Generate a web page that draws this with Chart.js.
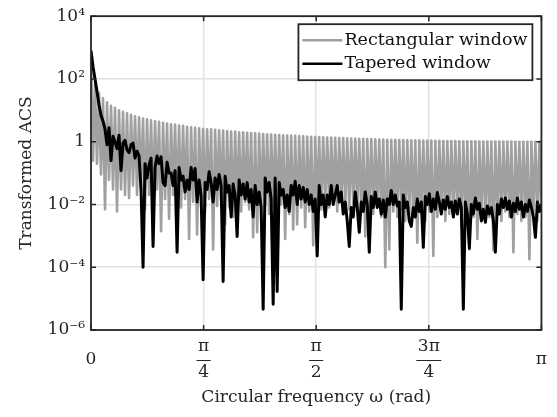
<!DOCTYPE html>
<html lang="en">
<head>
<meta charset="UTF-8">
<title>Transformed ACS</title>
<script src="https://cdn.jsdelivr.net/npm/chart.js"></script>
<style>
  html, body { margin: 0; padding: 0; background: #fff; }
</style>
</head>
<body>
<canvas id="acs-chart" width="557" height="417"></canvas>
<script>
// values, on the same frequency grid (0..pi)
// rectangular window: peak, trough pairs
const rectangular = [
  700, 0.25,   72, 0.2,    36, 0.09,   24, 0.007,  18, 0.06,   14, 0.03,   12, 0.006,  10, 0.03,
  9.0, 0.02,   8.0, 0.016, 7.2, 0.04,  6.5, 0.02,  6.0, 0.03,  5.5, 0.007, 5.2, 0.02,  4.8, 0.012,
  4.5, 0.03,   4.3, 0.0014, 4.0, 0.015, 3.8, 0.0035, 3.6, 0.02, 3.5, 0.01, 3.3, 0.008, 3.2, 0.015,
  3.0, 0.0008, 2.9, 0.012, 2.8, 0.0011, 2.7, 0.01, 2.6, 0.006, 2.5, 0.015, 2.5, 0.00037, 2.4, 0.009,
  2.3, 0.012,  2.25, 0.0023, 2.2, 0.008, 2.1, 0.004, 2.1, 0.01, 2.0, 0.006, 2.0, 0.012, 1.93, 0.007,
  1.89, 0.0009, 1.85, 0.0013, 1.81, 0.008, 1.77, 0.01, 1.73, 0.005, 1.70, 0.009, 1.67, 0.006, 1.64, 0.01,
  1.61, 0.0008, 1.58, 0.005, 1.56, 0.0016, 1.53, 0.0023, 1.51, 0.008, 1.48, 0.0019, 1.46, 0.006, 1.44, 0.0005,
  1.42, 0.01,  1.40, 0.007, 1.38, 0.012, 1.36, 0.008, 1.35, 0.01, 1.33, 0.006, 1.31, 0.012, 1.30, 0.009,
  1.28, 0.007, 1.27, 0.011, 1.26, 0.008, 1.24, 0.006, 1.23, 0.00095, 1.22, 0.007, 1.21, 0.005, 1.20, 0.009,
  1.18, 0.004, 1.17, 0.0001, 1.16, 0.00037, 1.15, 0.006, 1.15, 0.004, 1.14, 0.007, 1.13, 0.003, 1.12, 0.005,
  1.11, 0.004, 1.10, 0.0006, 1.10, 0.005, 1.09, 0.003, 1.08, 0.006, 1.08, 0.00023, 1.07, 0.004, 1.07, 0.006,
  1.06, 0.003, 1.06, 0.005, 1.05, 0.004, 1.05, 0.006, 1.04, 0.002, 1.04, 0.005, 1.03, 0.00037, 1.03, 0.004,
  1.03, 0.0008, 1.02, 0.005, 1.02, 0.003, 1.02, 0.004, 1.02, 0.00035, 1.01, 0.005, 1.01, 0.003, 1.01, 0.006,
  1.01, 0.004, 1.01, 0.0003, 1.0, 0.005, 1.0, 0.003, 1.0, 0.004, 1.0, 0.00018, 1.0, 0.005, 1.0, 0.003,
  1.0, 0.006
];

const tapered = [
  800, 250, 100, 40, 15, 7, 4.5, 2.5, 0.8, 2.8,
  0.25, 1.5, 1.0, 0.6, 1.6, 0.12, 0.9, 1.1, 0.55, 0.45,
  0.8, 0.9, 0.3, 0.5, 0.35, 0.03, 1e-4, 0.2, 0.07, 0.18,
  0.3, 4.6e-4, 0.15, 0.35, 0.2, 0.33, 0.05, 0.04, 0.22, 0.1,
  0.1, 0.04, 0.12, 3e-4, 0.15, 0.06, 0.08, 0.025, 0.06, 0.03,
  0.15, 0.06, 0.14, 0.012, 0.06, 0.02, 4e-5, 0.05, 0.03, 0.11,
  0.05, 0.012, 0.07, 0.03, 0.09, 0.04, 3.5e-5, 0.08, 0.025, 0.04,
  0.004, 0.045, 0.02, 9.5e-4, 0.06, 0.02, 0.045, 0.015, 0.05, 0.012,
  0.03, 0.004, 0.04, 0.01, 0.025, 0.008, 4.6e-6, 0.07, 0.025, 0.05,
  0.015, 6.6e-6, 0.07, 1.7e-5, 0.05, 0.02, 0.03, 0.008, 0.02, 0.006,
  0.04, 0.02, 0.055, 0.01, 0.04, 0.015, 0.035, 0.012, 0.03, 0.01,
  0.02, 0.006, 0.015, 2.3e-4, 0.04, 0.01, 0.02, 0.004, 0.02, 0.01,
  0.04, 0.01, 0.02, 0.04, 0.012, 0.025, 0.005, 0.012, 0.003, 4.6e-4,
  0.008, 0.004, 0.025, 0.008, 0.0013, 0.012, 0.006, 0.025, 0.01, 3e-4,
  0.018, 0.008, 0.025, 0.008, 0.015, 0.005, 0.014, 0.004, 0.015, 0.01,
  0.028, 0.01, 0.02, 0.009, 0.012, 4.6e-6, 0.02, 0.008, 0.012, 0.003,
  0.002, 0.008, 0.004, 0.015, 0.006, 0.012, 4.3e-4, 0.018, 0.01, 0.022,
  0.006, 0.015, 0.007, 0.024, 0.012, 0.005, 0.014, 0.007, 0.018, 0.008,
  0.012, 0.004, 0.013, 0.005, 0.015, 0.008, 4.6e-6, 0.012, 0.005, 4e-4,
  0.01, 0.005, 0.016, 0.007, 0.011, 0.003, 0.007, 0.0027, 0.009, 0.005,
  0.008, 0.003, 3e-4, 0.01, 0.005, 0.015, 0.008, 0.016, 0.007, 0.013,
  0.004, 0.011, 0.006, 0.016, 0.007, 0.012, 0.004, 0.01, 0.006, 0.014,
  0.008, 0.004, 9e-4, 0.012, 0.006, 0.01
];

const seriesNames = ['Rectangular window', 'Tapered window'];
const seriesColors = ['#a0a0a0', '#000000'];

const xTicks = [0, Math.PI / 4, Math.PI / 2, 3 * Math.PI / 4, Math.PI];
const xTickNum = ['', 'π', 'π', '3π', ''];
const xTickMid = ['0', '', '', '', 'π'];
const xTickDen = ['', '4', '2', '4', ''];
const yTicks = [1e-6, 1e-4, 1e-2, 1, 1e2, 1e4];

// sampling grid of the spectrum
const omega = rectangular.map((_, i) => Math.PI * i / (rectangular.length - 1));

const ink = '#262626';
const serif = "'DejaVu Serif', serif";
const sup = { '-': '⁻', '0': '⁰', '1': '¹', '2': '²', '3': '³', '4': '⁴', '5': '⁵', '6': '⁶', '7': '⁷', '8': '⁸', '9': '⁹' };

function powerLabel(v) {
    const e = Math.round(Math.log10(v));
    if (e === 0) return '1';
    return '10' + String(e).split('').map(c => sup[c]).join('');
}

// frame, inward ticks, fraction bars and the boxed legend
const decorations = {
    id: 'decorations',
    afterDatasetsDraw(chart) {
        const { ctx, chartArea: a } = chart;
        const xs = chart.scales.x, ys = chart.scales.y;
        ctx.save();
        ctx.strokeStyle = ink;
        ctx.lineWidth = 1.5;
        xs.ticks.forEach(t => {
            const px = xs.getPixelForValue(t.value);
            ctx.beginPath();
            ctx.moveTo(px, a.bottom); ctx.lineTo(px, a.bottom - 5);
            ctx.moveTo(px, a.top); ctx.lineTo(px, a.top + 5);
            ctx.stroke();
        });
        ys.ticks.forEach(t => {
            const py = ys.getPixelForValue(t.value);
            ctx.beginPath();
            ctx.moveTo(a.left, py); ctx.lineTo(a.left + 5, py);
            ctx.moveTo(a.right, py); ctx.lineTo(a.right - 5, py);
            ctx.stroke();
        });
        ctx.lineWidth = 1.8;
        ctx.strokeRect(a.left, a.top, a.right - a.left, a.bottom - a.top);

        // legend box
        const bw = 234, bh = 56;
        const bx = a.right - 9 - bw, by = a.top + 8;
        ctx.fillStyle = '#fff';
        ctx.fillRect(bx, by, bw, bh);
        ctx.lineWidth = 1.8;
        ctx.strokeRect(bx, by, bw, bh);
        ctx.font = '17.5px ' + serif;
        ctx.textBaseline = 'middle';
        ctx.textAlign = 'left';
        chart.data.datasets.forEach((ds, i) => {
            const cy = by + 16 + i * 23.5;
            ctx.strokeStyle = ds.borderColor;
            ctx.lineWidth = 2.6;
            ctx.beginPath();
            ctx.moveTo(bx + 4, cy); ctx.lineTo(bx + 44, cy);
            ctx.stroke();
            ctx.fillStyle = '#111';
            ctx.fillText(ds.label, bx + 46, cy);
        });
        ctx.restore();
    },
    afterDraw(chart) {
        const { ctx, chartArea: a } = chart;
        const xs = chart.scales.x;
        const opt = xs.options.ticks;
        ctx.save();
        ctx.strokeStyle = ink;
        ctx.lineWidth = 1;
        ctx.font = opt.font.size + 'px ' + serif;
        const lh = 13;
        const y = Math.round(a.bottom + opt.padding + lh * 1.5) + 0.5;
        xTicks.forEach((v, i) => {
            if (!xTickDen[i]) return;
            const px = xs.getPixelForValue(v);
            const w = Math.max(ctx.measureText(xTickNum[i]).width, ctx.measureText(xTickDen[i]).width) + 3;
            ctx.beginPath();
            ctx.moveTo(px - w / 2, y); ctx.lineTo(px + w / 2, y);
            ctx.stroke();
        });
        ctx.restore();
    }
};

new Chart(document.getElementById('acs-chart'), {
    type: 'line',
    data: {
        datasets: [
            {
                label: seriesNames[0],
                data: rectangular.map((v, i) => ({ x: omega[i], y: v })),
                borderColor: seriesColors[0],
                borderWidth: 2.6,
                order: 2
            },
            {
                label: seriesNames[1],
                data: tapered.map((v, i) => ({ x: omega[i], y: v })),
                borderColor: seriesColors[1],
                borderWidth: 3,
                order: 1
            }
        ]
    },
    options: {
        responsive: false,
        animation: false,
        events: [],
        layout: { padding: { top: 15, right: 15, left: 0, bottom: 0 } },
        elements: {
            point: { radius: 0 },
            line: { tension: 0, borderJoinStyle: 'round', fill: false }
        },
        plugins: {
            legend: { display: false },
            tooltip: { enabled: false }
        },
        scales: {
            x: {
                type: 'linear',
                min: 0,
                max: Math.PI,
                afterBuildTicks: s => { s.ticks = xTicks.map(v => ({ value: v })); },
                afterFit: s => { s.height = 87; },
                grid: { color: '#e2e2e2', lineWidth: 1.5, drawTicks: false },
                border: { display: false },
                ticks: {
                    padding: 10,
                    maxRotation: 0,
                    autoSkip: false,
                    color: ink,
                    font: { family: serif, size: 17, lineHeight: '13px' },
                    callback: (v, i) => [xTickNum[i], xTickMid[i], xTickDen[i]]
                },
                title: {
                    display: true,
                    text: 'Circular frequency ω (rad)',
                    color: ink,
                    font: { family: serif, size: 17 },
                    padding: { top: 0, bottom: 9 }
                }
            },
            y: {
                type: 'logarithmic',
                min: 1e-6,
                max: 1e4,
                afterBuildTicks: s => { s.ticks = yTicks.map(v => ({ value: v })); },
                afterFit: s => { s.width = 91; },
                grid: { color: '#e2e2e2', lineWidth: 1.5, drawTicks: false },
                border: { display: false },
                ticks: {
                    padding: 6,
                    color: ink,
                    font: { family: serif, size: 17 },
                    callback: v => powerLabel(v)
                },
                title: {
                    display: true,
                    text: 'Transformed ACS',
                    color: ink,
                    font: { family: serif, size: 17 },
                    padding: { top: 16, bottom: 0 }
                }
            }
        }
    },
    plugins: [decorations]
});
</script>
</body>
</html>
